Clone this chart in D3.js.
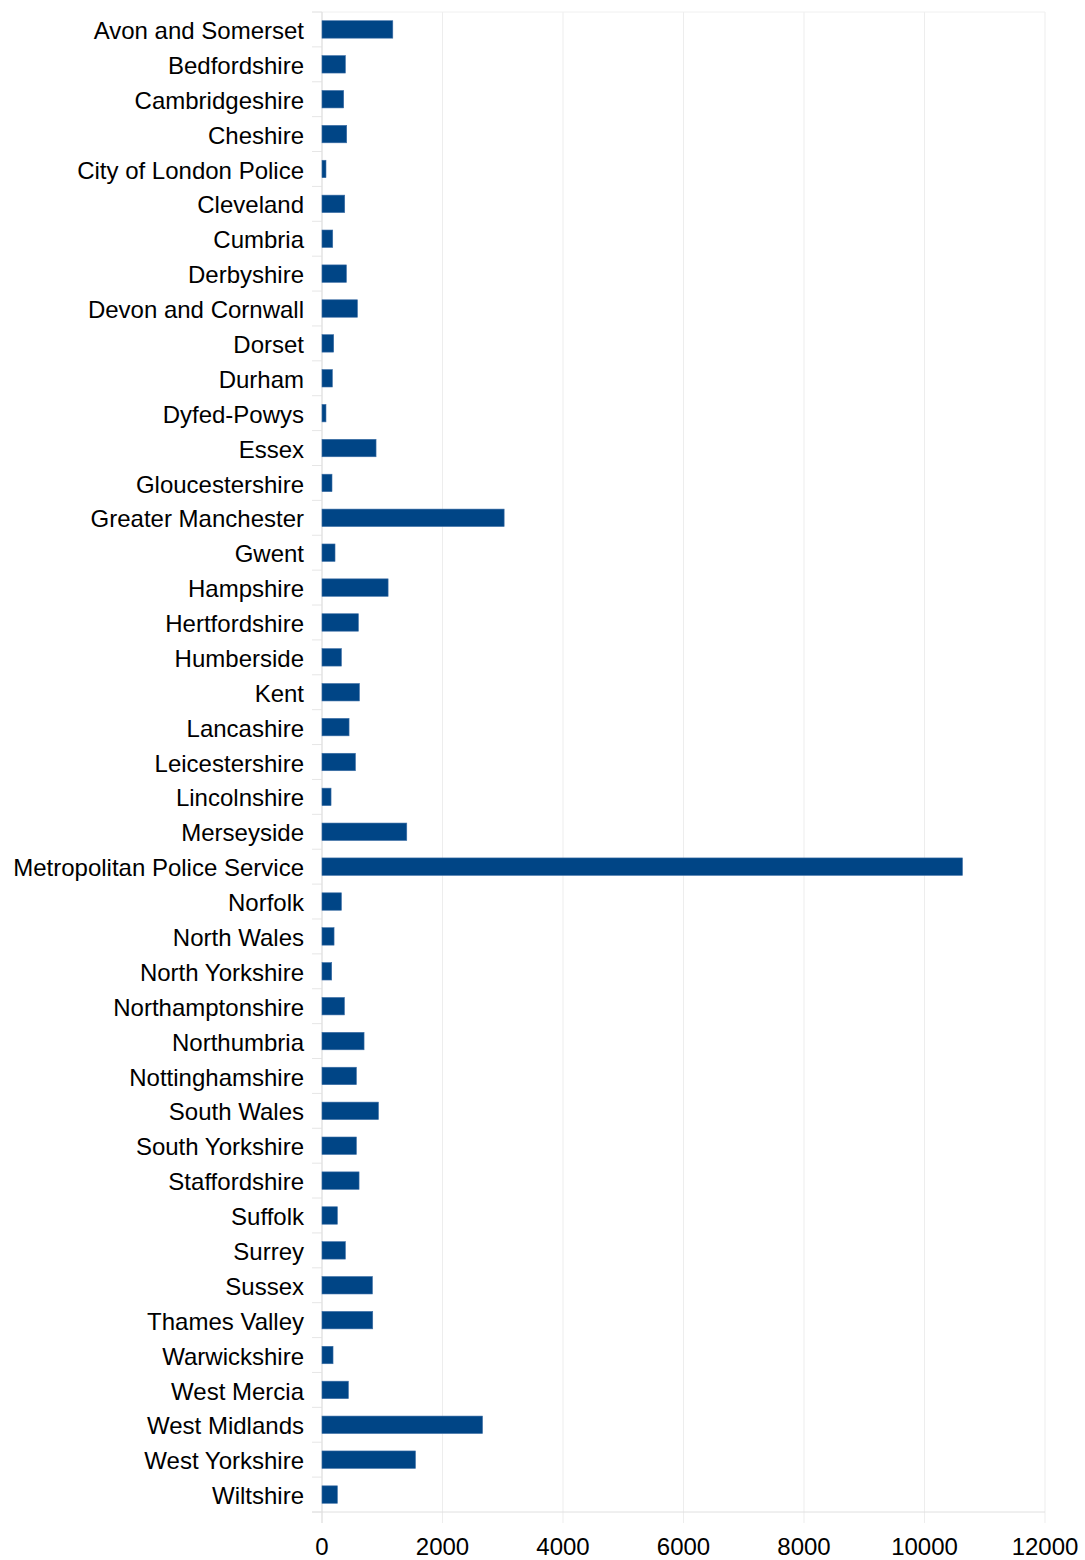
<!DOCTYPE html>
<meta charset="utf-8">
<script src="https://d3js.org/d3.v7.min.js"></script>
<style>
  body { margin: 0; background: #fff; }
  text { font-family: "Liberation Sans", Arial, sans-serif; fill: #000; }
</style>
<div id="my_dataviz"></div>
<script>

// police force areas, top to bottom
var forces = [
  "Avon and Somerset", "Bedfordshire", "Cambridgeshire", "Cheshire",
  "City of London Police", "Cleveland", "Cumbria", "Derbyshire",
  "Devon and Cornwall", "Dorset", "Durham", "Dyfed-Powys", "Essex",
  "Gloucestershire", "Greater Manchester", "Gwent", "Hampshire",
  "Hertfordshire", "Humberside", "Kent", "Lancashire", "Leicestershire",
  "Lincolnshire", "Merseyside", "Metropolitan Police Service", "Norfolk",
  "North Wales", "North Yorkshire", "Northamptonshire", "Northumbria",
  "Nottinghamshire", "South Wales", "South Yorkshire", "Staffordshire",
  "Suffolk", "Surrey", "Sussex", "Thames Valley", "Warwickshire",
  "West Mercia", "West Midlands", "West Yorkshire", "Wiltshire"
];

var counts = [
  1175, 388, 360, 410,
  66, 377, 178, 405,
  588, 194, 172, 66, 897,
  166, 3023, 216, 1097,
  604, 322, 621, 449, 555,
  150, 1407, 10630, 322,
  200, 161, 372, 698,
  571, 937, 571, 615,
  255, 388, 837, 842, 183,
  438, 2664, 1551, 255
];

var xTicks = [0, 2000, 4000, 6000, 8000, 10000, 12000];

var margin = {top: 12, right: 40, bottom: 48, left: 322},
    width = 1085 - margin.left - margin.right,
    height = 1560 - margin.top - margin.bottom;

var svg = d3.select("#my_dataviz")
  .append("svg")
    .attr("width", 1085)
    .attr("height", 1560)
  .append("g")
    .attr("transform", "translate(" + margin.left + "," + margin.top + ")");

var x = d3.scaleLinear()
  .domain([0, 12000])
  .range([0, width]);

var y = d3.scaleBand()
  .domain(forces)
  .range([0, height])
  .paddingInner(0.5)
  .paddingOuter(0.25);

// vertical gridlines (run down past the axis as tick marks)
svg.selectAll(".grid")
  .data(xTicks)
  .enter()
  .append("line")
    .attr("x1", function(d) { return x(d); })
    .attr("x2", function(d) { return x(d); })
    .attr("y1", 0)
    .attr("y2", height + 11)
    .attr("stroke", "#ededed")
    .attr("stroke-width", 1);

// top frame line
svg.append("line")
  .attr("x1", -10).attr("x2", width)
  .attr("y1", 0).attr("y2", 0)
  .attr("stroke", "#f0f0f0");

// category boundary ticks on the left
var step = y.step();
var bounds = forces.map(function(f) { return y(f) - step * 0.25; }).concat([height]);
svg.selectAll(".ytick")
  .data(bounds)
  .enter()
  .append("line")
    .attr("x1", -10)
    .attr("x2", 0)
    .attr("y1", function(d) { return d; })
    .attr("y2", function(d) { return d; })
    .attr("stroke", "#e6e6e6");

// bottom axis line
svg.append("line")
  .attr("x1", -10).attr("x2", width)
  .attr("y1", height).attr("y2", height)
  .attr("stroke", "#e0e0e0");

// left axis line
svg.append("line")
  .attr("x1", 0).attr("x2", 0)
  .attr("y1", 0).attr("y2", height + 11)
  .attr("stroke", "#dedede");

// bars
svg.selectAll("rect")
  .data(counts)
  .enter()
  .append("rect")
    .attr("x", x(0))
    .attr("y", function(d, i) { return y(forces[i]); })
    .attr("width", function(d) { return x(d) - x(0); })
    .attr("height", y.bandwidth())
    .attr("fill", "#004586")
    .attr("stroke", "#3c6ea6")
    .attr("stroke-width", 0.6);

// Y labels
svg.selectAll(".ylabel")
  .data(forces)
  .enter()
  .append("text")
    .attr("x", -18)
    .attr("y", function(d) { return y(d) + y.bandwidth() / 2; })
    .attr("dy", "0.4em")
    .attr("text-anchor", "end")
    .style("font-size", "24px")
    .text(function(d) { return d; });

// X labels
svg.selectAll(".xlabel")
  .data(xTicks)
  .enter()
  .append("text")
    .attr("x", function(d) { return x(d); })
    .attr("y", height + 43)
    .attr("text-anchor", "middle")
    .style("font-size", "24px")
    .text(function(d) { return d; });

</script>
